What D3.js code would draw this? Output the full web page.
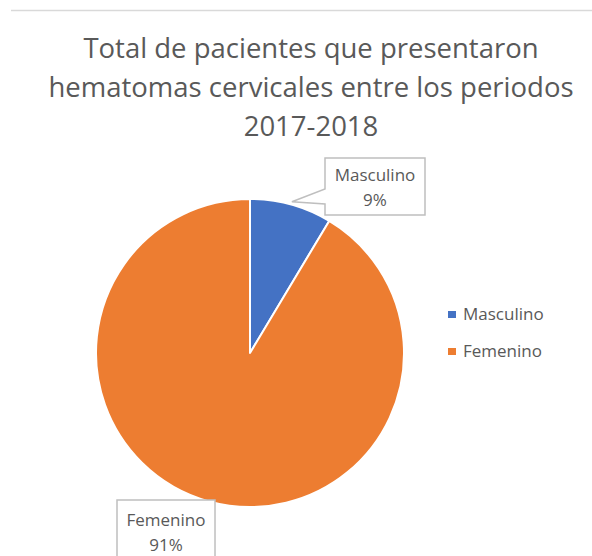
<!DOCTYPE html>
<html>
<head>
<meta charset="utf-8">
<script src="https://cdn.jsdelivr.net/npm/d3@7"></script>
<style>
  body { margin: 0; background: #fff; }
  svg { display: block; font-family: "Open Sans", sans-serif; }
</style>
</head>
<body>
<svg></svg>
<script>
// tamaño del lienzo
var width = 592;
var height = 556;
var svg = d3.select("svg").attr("width", width).attr("height", height);

// datos
var categories = ["Masculino", "Femenino"];
var values = [8.6, 91.4];
var colors = ["#4472C4", "#ED7D31"];
var titleLines = ["Total de pacientes que presentaron", "hematomas cervicales entre los periodos", "2017-2018"];

var textColor = "#595959";
var centerX = 250, centerY = 353, radius = 154;

// borde superior del gráfico
svg.append("line")
    .attr("x1", 11).attr("x2", width)
    .attr("y1", 10.5).attr("y2", 10.5)
    .attr("stroke", "#d9d9d9")
    .attr("stroke-width", 1.5);

// título
svg.append("g").selectAll("text")
    .data(titleLines)
    .enter().append("text")
    .attr("x", 311)
    .attr("y", (d, i) => 58 + i * 39)
    .attr("text-anchor", "middle")
    .attr("font-size", "27.5px")
    .attr("fill", textColor)
    .text(d => d);

// pastel
var pie = d3.pie().sort(null).value(d => d);
var arcs = pie(values);
var arc = d3.arc().innerRadius(0).outerRadius(radius);

var g = svg.append("g").attr("transform", "translate(" + centerX + "," + centerY + ")");
g.selectAll("path")
    .data(arcs)
    .enter().append("path")
    .attr("d", arc)
    .attr("fill", (d, i) => colors[i])
    .attr("stroke", "#fff")
    .attr("stroke-width", 2)
    .attr("stroke-linejoin", "round");

// porcentaje
var pct = d => Math.round(d.data / d3.sum(values) * 100) + "%";
var tipArc = d3.arc().innerRadius(radius + 3).outerRadius(radius + 3);

// etiqueta Masculino con flecha
var a0 = arcs[0];
var tip = tipArc.centroid(a0);
var tx = centerX + tip[0], ty = centerY + tip[1];
var bx0 = 325, by0 = 158, bx1 = 425, by1 = 215;
var callout = d3.path();
callout.moveTo(bx0, by0);
callout.lineTo(bx1, by0);
callout.lineTo(bx1, by1);
callout.lineTo(bx0, by1);
callout.lineTo(bx0, 204);
callout.lineTo(tx, ty);
callout.lineTo(bx0, 189);
callout.closePath();
svg.append("path")
    .attr("d", callout.toString())
    .attr("fill", "#fff")
    .attr("stroke", "#bfbfbf")
    .attr("stroke-width", 1.5);
svg.append("text")
    .attr("x", (bx0 + bx1) / 2).attr("y", 181)
    .attr("text-anchor", "middle")
    .attr("font-size", "17px")
    .attr("fill", textColor)
    .text(categories[0]);
svg.append("text")
    .attr("x", (bx0 + bx1) / 2).attr("y", 206)
    .attr("text-anchor", "middle")
    .attr("font-size", "17px")
    .attr("fill", textColor)
    .text(pct(a0));

// etiqueta Femenino
var a1 = arcs[1];
svg.append("rect")
    .attr("x", 117).attr("y", 500)
    .attr("width", 98).attr("height", 70)
    .attr("fill", "#fff")
    .attr("stroke", "#bfbfbf")
    .attr("stroke-width", 1.5);
svg.append("text")
    .attr("x", 166).attr("y", 526)
    .attr("text-anchor", "middle")
    .attr("font-size", "17px")
    .attr("fill", textColor)
    .text(categories[1]);
svg.append("text")
    .attr("x", 166).attr("y", 551)
    .attr("text-anchor", "middle")
    .attr("font-size", "17px")
    .attr("fill", textColor)
    .text(pct(a1));

// leyenda
var legend = svg.append("g").selectAll("g")
    .data(categories)
    .enter().append("g")
    .attr("transform", (d, i) => "translate(448," + (311 + i * 37) + ")");
legend.append("rect")
    .attr("width", 8).attr("height", 7)
    .attr("fill", (d, i) => colors[i]);
legend.append("text")
    .attr("x", 15).attr("y", 8.5)
    .attr("font-size", "17px")
    .attr("fill", textColor)
    .text(d => d);
</script>
</body>
</html>
